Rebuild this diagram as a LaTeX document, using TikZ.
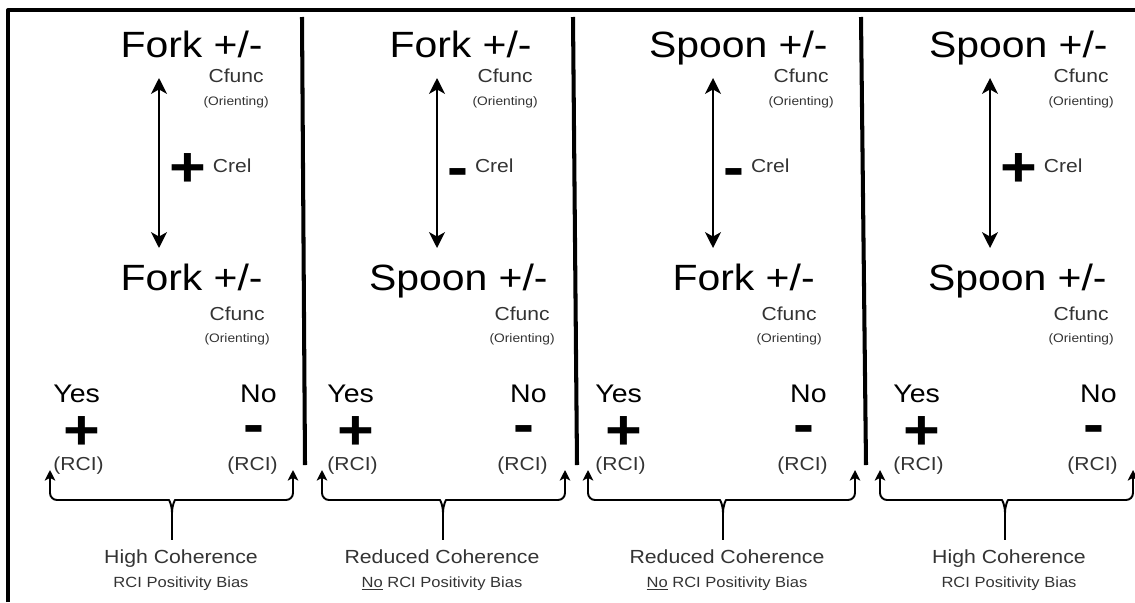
\documentclass[tikz,border=0pt]{standalone}
\usepackage{fontspec}
\setmainfont{Liberation Sans}[FakeStretch=1.12]
\usetikzlibrary{arrows.meta,calc}
\begin{document}
\begin{tikzpicture}[x=0.02cm,y=-0.02cm,line join=round,
	big/.style={inner sep=0pt,font=\fontsize{20.8}{22}\selectfont},
	small/.style={inner sep=0pt,text=black!80,font=\fontsize{10.7}{12}\selectfont},
	tiny/.style={inner sep=0pt,text=black!80,font=\fontsize{7}{8}\selectfont},
	answer/.style={inner sep=0pt,font=\fontsize{14.5}{16}\selectfont},
	sign/.style={inner sep=0pt,text height=10pt,text depth=0pt,font=\fontsize{32}{34}\selectfont\bfseries},
	capa/.style={inner sep=0pt,text=black!80,font=\fontsize{10.8}{12}\selectfont},
	capb/.style={inner sep=0pt,text=black!80,font=\fontsize{8.4}{10}\selectfont},
	link/.style={line width=1.35pt,{Stealth[length=9pt,width=9pt,inset=2.5pt]}-{Stealth[length=9pt,width=9pt,inset=2.5pt]}},
	brace/.style={line width=1.1pt,rounded corners=4pt,-{Stealth[length=6pt,width=6pt,inset=1.5pt]}},
	sep/.style={line width=2.3pt}]
\useasboundingbox (0,0) rectangle (1135,602);
% frame and dividers
\draw[line width=1.9pt] (8,602) -- (8,10) -- (1135,10);
\draw[sep] (302,17) -- (305,465);
\draw[sep] (573,17) -- (577,465);
\draw[sep] (861,17) -- (866,465);
% panels
\foreach \i/\ax/\tr/\br/\lx/\rx/\yx/\nx/\cx/\tx/\up/\dn/\crel/\ca/\cb in {
	1/159/263/263/50/293/53/277/172/181/Fork/Fork/+/High Coherence/RCI Positivity Bias,
	2/437/532/548/322/565/327/547/443/442/Fork/Spoon/-/Reduced Coherence/\underline{No} RCI Positivity Bias,
	3/713/828/815/588/855/595/827/723/727/Spoon/Fork/-/Reduced Coherence/\underline{No} RCI Positivity Bias,
	4/990/1108/1107/880/1133/893/1117/1005/1009/Spoon/Spoon/+/High Coherence/RCI Positivity Bias}{
	\node[big,anchor=base east] (top\i) at (\tr,57) {\up\ +/-};
	\node[small,anchor=base east] (cft\i) at ($(top\i.base east)+(1,25)$) {Cfunc};
	\node[tiny,anchor=base east] (ort\i) at ($(cft\i.base east)+(5,23)$) {(Orienting)};
	\node[big,anchor=base east] (bot\i) at (\br,290) {\dn\ +/-};
	\node[small,anchor=base east] (cfb\i) at ($(bot\i.base east)+(2,30)$) {Cfunc};
	\node[tiny,anchor=base east] (orb\i) at ($(cfb\i.base east)+(5,22)$) {(Orienting)};
	\coordinate (ua\i) at (\ax,78);
	\coordinate (da\i) at (\ax,248);
	\draw[link] (ua\i) -- (da\i);
	\node[sign,anchor=base west] (cs\i) at (\ax+10,186) {\crel};
	\node[small,anchor=west] (cr\i) at ($(cs\i.east)+(6,-11)$) {Crel};
	\node[answer,anchor=base west] (yes\i) at (\yx,402) {Yes};
	\node[answer,anchor=base east] (no\i) at (\nx,402) {No};
	\node[sign,anchor=base] (py\i) at ($(yes\i.base)+(5,47)$) {+};
	\node[sign,anchor=base] (mn\i) at ($(no\i.base)+(-4,41)$) {-};
	\node[small,anchor=base west] (rl\i) at (\yx,470) {(RCI)};
	\node[small,anchor=base east] (rr\i) at (\nx+1,470) {(RCI)};
	\coordinate (bl\i) at (\lx,470);
	\coordinate (br\i) at (\rx,470);
	\coordinate (tip\i) at (\cx,513);
	\draw[brace] (tip\i) .. controls (\cx,505) and (\cx-3,500) .. (\cx-10,500) -- (\lx,500) -- (bl\i);
	\draw[brace] (tip\i) .. controls (\cx,505) and (\cx+3,500) .. (\cx+10,500) -- (\rx,500) -- (br\i);
	\draw[line width=1.1pt] (tip\i) -- (\cx,540);
	\node[capa,anchor=base] (hc\i) at (\tx,563) {\ca};
	\node[capb,anchor=base] (pb\i) at (\tx,587) {\cb};
}
\end{tikzpicture}
\end{document}
